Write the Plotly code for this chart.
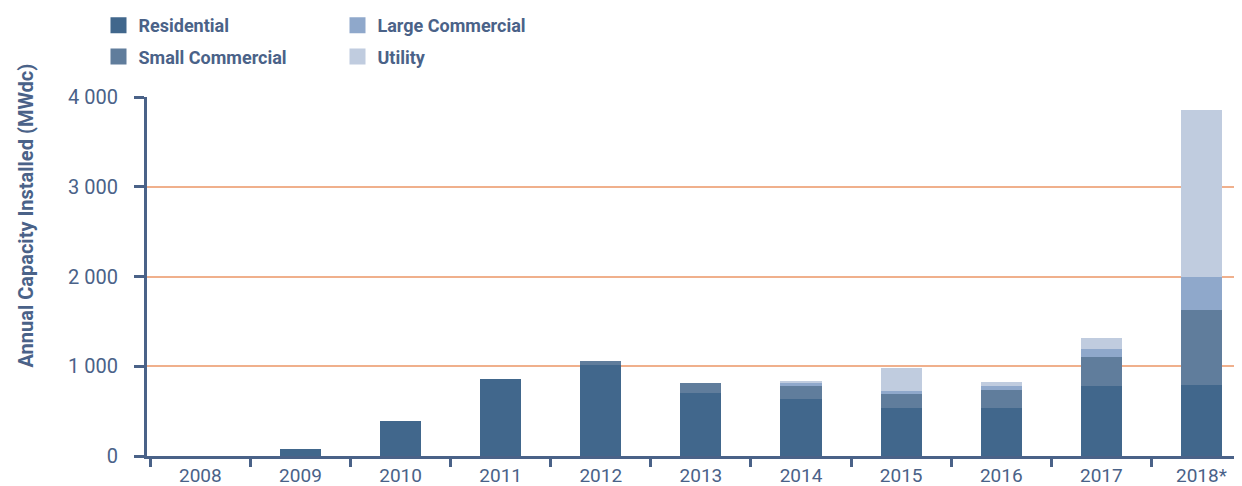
import plotly.graph_objects as go

years = ["2008", "2009", "2010", "2011", "2012", "2013", "2014", "2015", "2016", "2017", "2018*"]
residential = [0, 80, 390, 860, 1010, 700, 630, 530, 530, 775, 790]
small_commercial = [0, 0, 0, 0, 45, 110, 155, 168, 200, 330, 840]
large_commercial = [0, 0, 0, 0, 0, 0, 25, 22, 45, 90, 365]
utility = [0, 0, 0, 0, 0, 0, 30, 265, 55, 120, 1860]

ytick_vals = [0, 1000, 2000, 3000, 4000]
ytick_text = ["0", "1 000", "2 000", "3 000", "4 000"]

series = [
    ("Residential", residential, "#41678C", "legend", 1),
    ("Small Commercial", small_commercial, "#607D9C", "legend", 2),
    ("Large Commercial", large_commercial, "#8FA8CB", "legend2", 1),
    ("Utility", utility, "#C0CCDF", "legend2", 2),
]

TXT = "#4A6288"
FONT = "Roboto, sans-serif"

fig = go.Figure()
for name, vals, color, lg, rank in series:
    fig.add_trace(go.Bar(x=years, y=vals, name=name, marker=dict(color=color, line=dict(width=0)),
                         showlegend=False))
for name, vals, color, lg, rank in series:
    fig.add_trace(go.Scatter(x=[None], y=[None], mode="markers", name=name,
                             marker=dict(symbol="square", size=18, color=color),
                             legend=lg, legendgroup=name, legendrank=rank, showlegend=True))

# the page body adds an 8px offset; figure coordinates below compensate for it
W, H = 1242, 486
L, R, T, B = 139, 8, 89, 38
pw, ph = W - L - R, H - T - B

legend_common = dict(orientation="v", xanchor="left", yanchor="top", bgcolor="rgba(0,0,0,0)",
                     font=dict(family=FONT, size=18, color=TXT, weight="bold"),
                     tracegroupgap=5, itemwidth=30)

fig.update_layout(
    width=W, height=H,
    margin=dict(l=L, r=R, t=T, b=B, autoexpand=False),
    paper_bgcolor="white", plot_bgcolor="white",
    barmode="stack", bargap=0.59,
    font=dict(family=FONT, color=TXT),
    legend=dict(x=(90.5 - L) / pw, y=1 + (T + 1) / ph, **legend_common),
    legend2=dict(x=(329.5 - L) / pw, y=1 + (T + 1) / ph, **legend_common),
    xaxis=dict(range=[-0.533, 10.405], showline=True, linecolor=TXT, linewidth=3,
               ticks="outside", tickson="boundaries", ticklen=8, tickwidth=3, tickcolor=TXT,
               ticklabelstandoff=0,
               tickfont=dict(family=FONT, size=19, color=TXT), showgrid=False, fixedrange=True),
    yaxis=dict(range=[0, 4000], tickvals=ytick_vals, ticktext=ytick_text,
               showline=True, linecolor=TXT, linewidth=3,
               ticks="outside", ticklen=10, tickwidth=3, tickcolor=TXT, ticklabelstandoff=12,
               tickfont=dict(family=FONT, size=20, color=TXT),
               showgrid=True, gridcolor="#F0B08C", gridwidth=1.5, zeroline=False),
    annotations=[dict(text="Annual Capacity Installed (MWdc)", textangle=-90,
                      xref="paper", yref="paper", x=(17 - L) / pw, y=(448 - 207.5) / ph,
                      xanchor="center", yanchor="middle", showarrow=False,
                      font=dict(family=FONT, size=20, color=TXT, weight="bold"))],
)

fig.write_html("out.html")
